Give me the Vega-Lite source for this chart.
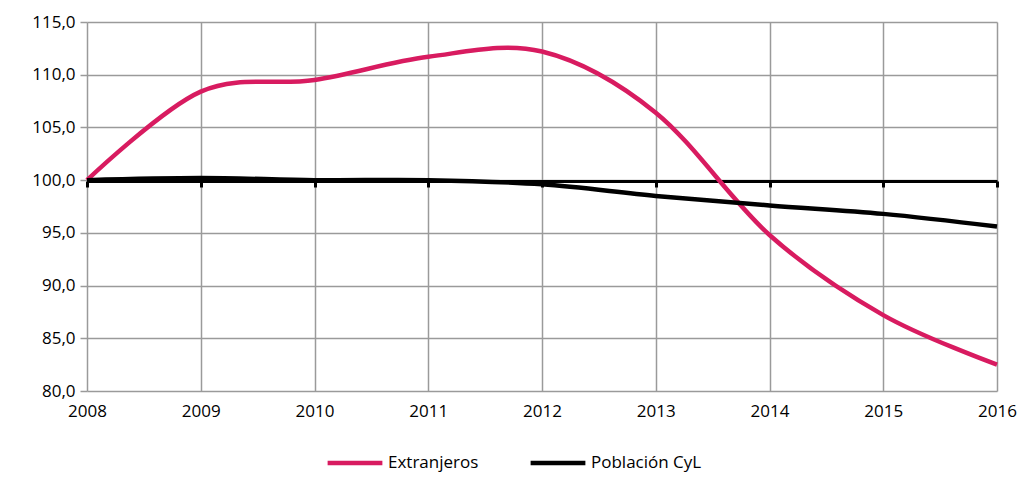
{
  "$schema": "https://vega.github.io/schema/vega-lite/v6.json",
  "width": 910,
  "height": 369,
  "autosize": "none",
  "padding": {"left": 87, "top": 22, "right": 27, "bottom": 96},
  "background": "white",
  "config": {
    "font": "Open Sans",
    "view": {"stroke": null},
    "axis": {"labelFont": "Open Sans", "labelFontSize": 17, "labelColor": "#000000"}
  },
  "data": {
    "values": [
      {"year": 2008, "serie": "Extranjeros", "value": 100.0},
      {"year": 2009, "serie": "Extranjeros", "value": 108.4},
      {"year": 2010, "serie": "Extranjeros", "value": 109.5},
      {"year": 2011, "serie": "Extranjeros", "value": 111.7},
      {"year": 2012, "serie": "Extranjeros", "value": 112.2},
      {"year": 2013, "serie": "Extranjeros", "value": 106.4},
      {"year": 2014, "serie": "Extranjeros", "value": 94.8},
      {"year": 2015, "serie": "Extranjeros", "value": 87.2},
      {"year": 2016, "serie": "Extranjeros", "value": 82.5},
      {"year": 2008, "serie": "Población CyL", "value": 100.0},
      {"year": 2009, "serie": "Población CyL", "value": 100.2},
      {"year": 2010, "serie": "Población CyL", "value": 100.0},
      {"year": 2011, "serie": "Población CyL", "value": 100.0},
      {"year": 2012, "serie": "Población CyL", "value": 99.6},
      {"year": 2013, "serie": "Población CyL", "value": 98.5},
      {"year": 2014, "serie": "Población CyL", "value": 97.6},
      {"year": 2015, "serie": "Población CyL", "value": 96.8},
      {"year": 2016, "serie": "Población CyL", "value": 95.6}
    ]
  },
  "layer": [
    {
      "mark": {"type": "line", "interpolate": "cardinal", "strokeWidth": 4.5, "strokeCap": "butt"},
      "encoding": {
        "x": {
          "field": "year", "type": "quantitative",
          "scale": {"domain": [2008, 2016], "nice": false, "zero": false},
          "axis": {
            "title": null, "values": [2008, 2009, 2010, 2011, 2012, 2013, 2014, 2015, 2016],
            "format": "d", "domain": false, "ticks": false, "labelPadding": 12,
            "grid": true, "gridColor": "#9a9a9a", "gridWidth": 1.5,
            "labelFlush": false
          }
        },
        "y": {
          "field": "value", "type": "quantitative",
          "scale": {"domain": [80, 115], "nice": false, "zero": false},
          "axis": {
            "title": null, "values": [80, 85, 90, 95, 100, 105, 110, 115],
            "labelExpr": "replace(format(datum.value, '.1f'), '.', ',')",
            "domain": false, "ticks": true, "tickColor": "#9a9a9a", "tickSize": 7, "tickWidth": 1.5,
            "labelPadding": 5, "grid": true, "gridColor": "#9a9a9a", "gridWidth": 1.5
          }
        },
        "color": {
          "field": "serie", "type": "nominal",
          "scale": {"domain": ["Extranjeros", "Población CyL"], "range": ["#d81b60", "#000000"]},
          "legend": {
            "title": null, "orient": "none", "legendX": 238, "legendY": 411,
            "direction": "horizontal", "symbolType": "stroke", "symbolSize": 3000,
            "symbolStrokeWidth": 4.5, "labelFont": "Open Sans", "labelFontSize": 17,
            "labelColor": "#000000", "columnPadding": 42, "labelOffset": 3
          }
        }
      }
    },
    {
      "mark": {"type": "rule", "opacity": 0},
      "encoding": {
        "x": {
          "field": "year", "type": "quantitative",
          "axis": {
            "title": null, "orient": "bottom", "offset": -210,
            "values": [2008, 2009, 2010, 2011, 2012, 2013, 2014, 2015, 2016],
            "labels": false, "grid": false, "domain": true, "domainColor": "#000000",
            "domainWidth": 3, "ticks": true, "tickColor": "#000000", "tickWidth": 3, "tickSize": 6
          }
        }
      }
    }
  ],
  "resolve": {"axis": {"x": "independent"}}
}
